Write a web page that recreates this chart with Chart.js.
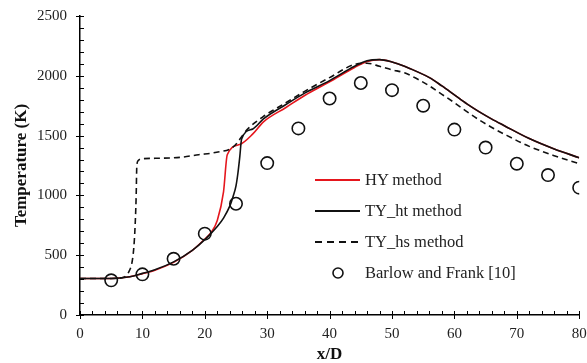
<!DOCTYPE html>
<html>
<head>
<meta charset="utf-8">
<script src="https://cdn.jsdelivr.net/npm/chart.js@4/dist/chart.umd.min.js"></script>
<style>
  html, body { margin: 0; padding: 0; background: #fff; }
  #wrap { position: relative; width: 587px; height: 363px; }
  #legend { position: absolute; left: 313px; top: 164px; font-family: "Liberation Serif", serif; font-size: 16.5px; color: #222; }
  .row { height: 31px; display: flex; align-items: center; white-space: nowrap; }
  .row svg { width: 50px; height: 14px; margin-right: 2px; flex: none; }
</style>
</head>
<body>
<div id="wrap">
  <canvas id="chart" width="587" height="363"></canvas>
  <div id="legend"></div>
</div>
<script>
// x/D positions and temperatures (K)
const hyX = [0, 5, 8, 10, 12, 15, 18, 20, 21, 22, 23, 23.6, 25.6, 27.7, 29.4, 33, 36, 40, 44, 46, 48, 50, 52, 54, 56, 58, 60, 62, 64, 66, 68, 72, 76, 80];
const hyT = [305, 305, 320, 345, 375, 440, 540, 635, 690, 790, 1030, 1340, 1425, 1514, 1615, 1735, 1835, 1950, 2070, 2120, 2135, 2115, 2080, 2035, 1985, 1915, 1840, 1765, 1698, 1638, 1583, 1475, 1388, 1315];

const htX = [0, 5, 8, 10, 12, 15, 18, 20, 22, 23, 24, 24.5, 25, 25.3, 25.6, 25.9, 27.7, 29.4, 33, 36, 40, 44, 46, 48, 50, 52, 54, 56, 58, 60, 62, 64, 66, 68, 72, 76, 80];
const htT = [305, 305, 320, 348, 378, 444, 540, 630, 740, 810, 910, 985, 1080, 1183, 1320, 1472, 1556, 1640, 1760, 1855, 1960, 2080, 2125, 2135, 2115, 2080, 2035, 1985, 1915, 1840, 1765, 1698, 1638, 1583, 1475, 1388, 1315];

const hsX = [0, 5, 7, 7.5, 8, 8.3, 8.6, 8.8, 9, 9.1, 9.3, 9.8, 12, 16, 19, 21.9, 24.5, 26.9, 29.4, 33, 36, 40, 44, 46, 48, 50, 52, 54, 56, 58, 60, 62, 64, 66, 68, 72, 76, 80];
const hsT = [305, 305, 315, 335, 380, 430, 550, 710, 990, 1240, 1290, 1305, 1310, 1318, 1340, 1361, 1403, 1556, 1660, 1775, 1870, 1985, 2095, 2105, 2080, 2050, 2025, 1975, 1915, 1845, 1775, 1700, 1630, 1568, 1512, 1410, 1332, 1265];

const expX = [5, 10, 15, 20, 25, 30, 35, 40, 45, 50, 55, 60, 65, 70, 75, 80];
const expT = [290, 340, 470, 680, 930, 1270, 1560, 1810, 1940, 1880, 1750, 1550, 1400, 1265, 1170, 1065];

const xTicks = [0, 10, 20, 30, 40, 50, 60, 70, 80];
const yTicks = [0, 500, 1000, 1500, 2000, 2500];

const labels = ["HY method", "TY_ht method", "TY_hs method", "Barlow and Frank [10]"];

function pts(xs, ys) {
  return xs.map((x, i) => ({ x: x, y: ys[i] }));
}

const serif = '"Liberation Serif", "Times New Roman", serif';

// small tick marks on both axes
const tickMarks = {
  id: 'tickMarks',
  afterDraw(chart) {
    const { ctx, chartArea } = chart;
    const sx = chart.scales.x, sy = chart.scales.y;
    ctx.save();
    ctx.strokeStyle = '#000';
    ctx.lineWidth = 1;
    for (let v = 0; v <= sx.max; v += 2) {
      const px = Math.round(sx.getPixelForValue(v)) + 0.5;
      const major = v % 10 === 0;
      ctx.beginPath();
      ctx.moveTo(px, chartArea.bottom - 4);
      ctx.lineTo(px, chartArea.bottom + (major ? 4 : 0));
      ctx.stroke();
    }
    for (let v = 0; v <= sy.max; v += 100) {
      const py = Math.round(sy.getPixelForValue(v)) + 0.5;
      const major = v % 500 === 0;
      ctx.beginPath();
      ctx.moveTo(chartArea.left - (major ? 4 : 0), py);
      ctx.lineTo(chartArea.left + 4, py);
      ctx.stroke();
    }
    ctx.restore();
  }
};

const lineBase = {
  showLine: true,
  pointRadius: 0,
  pointHoverRadius: 0,
  cubicInterpolationMode: 'monotone',
  fill: false,
  borderWidth: 1.6
};

function noOverhang(s) {
  s.paddingLeft = 0; s.paddingRight = 0; s.paddingTop = 0; s.paddingBottom = 0;
}

const config = {
  type: 'scatter',
  data: {
    datasets: [
      Object.assign({}, lineBase, { label: labels[0], data: pts(hyX, hyT), borderColor: '#e5161d', order: 3 }),
      Object.assign({}, lineBase, { label: labels[2], data: pts(hsX, hsT), borderColor: '#111', borderDash: [6, 4], order: 2 }),
      Object.assign({}, lineBase, { label: labels[1], data: pts(htX, htT), borderColor: '#111', order: 1 }),
      {
        label: labels[3],
        data: pts(expX, expT),
        showLine: false,
        pointStyle: 'circle',
        pointRadius: 6.2,
        pointBorderWidth: 1.6,
        pointBorderColor: '#111',
        pointBackgroundColor: 'rgba(0,0,0,0)',
        order: 0
      }
    ]
  },
  options: {
    responsive: false,
    animation: false,
    layout: { padding: { top: 16, right: 6, left: 0, bottom: 0 } },
    plugins: {
      legend: { display: false },
      tooltip: { enabled: false }
    },
    scales: {
      x: {
        type: 'linear',
        min: 0,
        max: 80,
        afterFit: s => { s.height = 48; noOverhang(s); },
        afterBuildTicks: s => { s.ticks = xTicks.map(v => ({ value: v })); },
        grid: { display: true, drawOnChartArea: false, drawTicks: false },
        border: { display: true, color: '#000', width: 1.5 },
        ticks: { padding: 10, color: '#222', font: { family: serif, size: 15 }, callback: v => String(v) },
        title: { display: true, text: 'x/D', color: '#111', font: { family: serif, size: 17, weight: 'bold', lineHeight: 1 }, padding: { top: 0, bottom: 0 } }
      },
      y: {
        min: 0,
        max: 2500,
        afterFit: s => { s.width = 80; noOverhang(s); },
        afterBuildTicks: s => { s.ticks = yTicks.map(v => ({ value: v })); },
        grid: { display: true, drawOnChartArea: false, drawTicks: false },
        border: { display: true, color: '#000', width: 1.5 },
        ticks: { padding: 13, color: '#222', font: { family: serif, size: 15 }, callback: v => String(v) },
        title: { display: true, text: 'Temperature (K)', color: '#111', font: { family: serif, size: 17, weight: 'bold' }, padding: { top: 11, bottom: 0 } }
      }
    }
  },
  plugins: [tickMarks]
};

const myChart = new Chart(document.getElementById('chart'), config);

// legend placed inside the plot, like the original
const samples = [
  '<line x1="2" y1="7" x2="47" y2="7" stroke="#e5161d" stroke-width="1.8"/>',
  '<line x1="2" y1="7" x2="47" y2="7" stroke="#111" stroke-width="1.8"/>',
  '<line x1="2" y1="7" x2="47" y2="7" stroke="#111" stroke-width="1.8" stroke-dasharray="7 5"/>',
  '<circle cx="25" cy="7" r="5" fill="none" stroke="#111" stroke-width="1.6"/>'
];
const legendEl = document.getElementById('legend');
labels.forEach((txt, i) => {
  const row = document.createElement('div');
  row.className = 'row';
  row.innerHTML = '<svg viewBox="0 0 50 14">' + samples[i] + '</svg><span></span>';
  row.querySelector('span').textContent = txt;
  legendEl.appendChild(row);
});
</script>
</body>
</html>
